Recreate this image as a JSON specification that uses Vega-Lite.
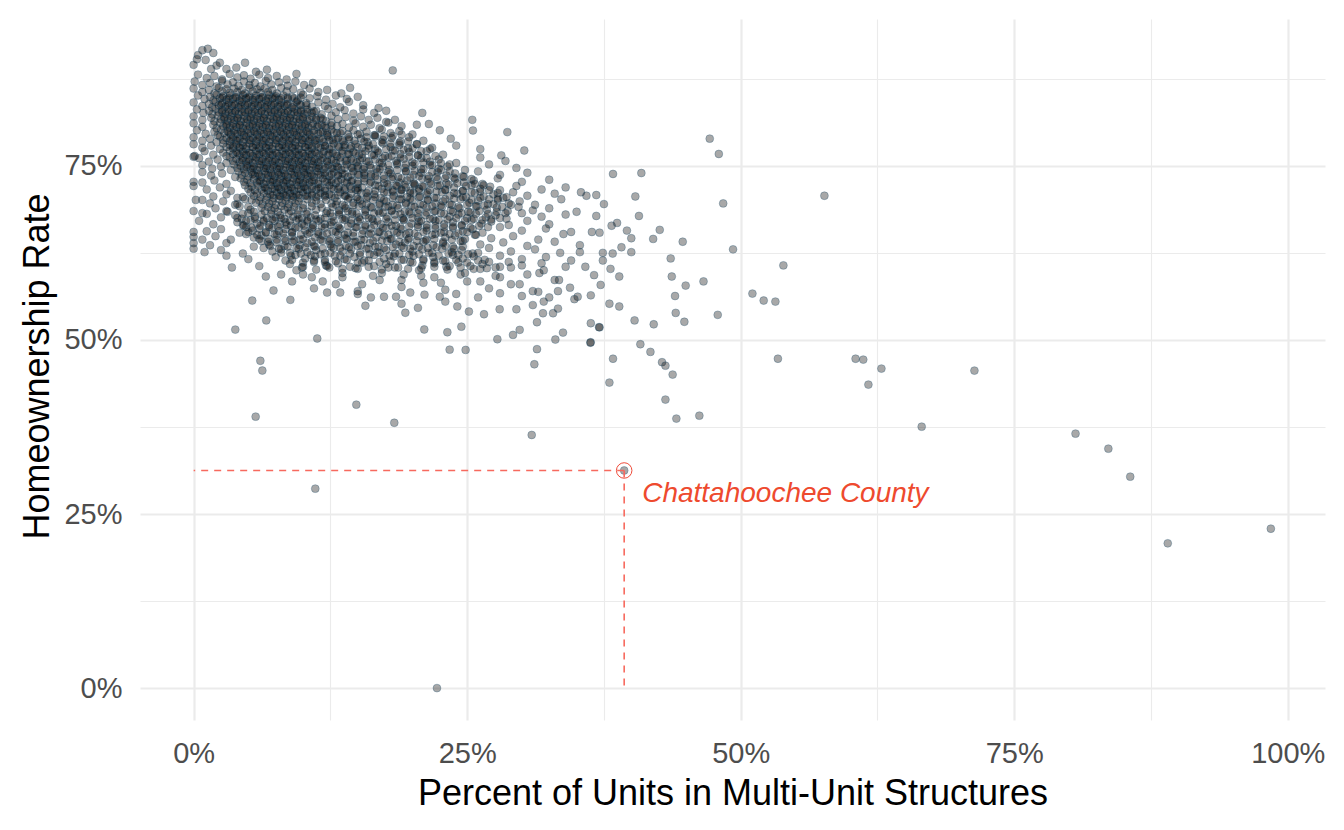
{
"$schema": "https://vega.github.io/schema/vega-lite/v6.json",
"width": 1185,
"height": 701,
"autosize": {"type": "none"},
"padding": {"left": 140, "top": 19, "right": 19, "bottom": 110},
"background": "#ffffff",
"config": {"view": {"stroke": null}, "font": "Liberation Sans"},
"datasets": {
"counties": [
{"x":0.013,"y":0.918},{"x":0.008,"y":0.916},{"x":0.018,"y":0.912},{"x":0.004,"y":0.909},{"x":0.003,"y":0.903},{"x":0.011,"y":0.902},{"x":0.024,"y":0.898},{"x":0.047,"y":0.898},{"x":0,"y":0.895},{"x":0.03,"y":0.889},{"x":0.039,"y":0.891},{"x":0.057,"y":0.885},{"x":0.016,"y":0.889},{"x":0.067,"y":0.888},{"x":0.021,"y":0.894},{"x":0.182,"y":0.887},
{"x":0.004,"y":0.881},{"x":0.012,"y":0.876},{"x":0.019,"y":0.879},{"x":0.026,"y":0.874},{"x":0.033,"y":0.882},{"x":0.04,"y":0.877},{"x":0.046,"y":0.88},{"x":0.052,"y":0.875},{"x":0.06,"y":0.881},{"x":0.068,"y":0.876},{"x":0.076,"y":0.879},{"x":0.085,"y":0.874},{"x":0.094,"y":0.882},
{"x":0.001,"y":0.871},{"x":0.008,"y":0.866},{"x":0.015,"y":0.869},{"x":0.021,"y":0.864},{"x":0.026,"y":0.872},{"x":0.031,"y":0.867},{"x":0.036,"y":0.87},{"x":0.041,"y":0.865},{"x":0.046,"y":0.871},{"x":0.051,"y":0.866},{"x":0.056,"y":0.869},{"x":0.061,"y":0.864},{"x":0.066,"y":0.872},{"x":0.071,"y":0.867},{"x":0.078,"y":0.87},{"x":0.086,"y":0.865},{"x":0.093,"y":0.871},{"x":0.101,"y":0.866},{"x":0.109,"y":0.869},
{"x":0,"y":0.861},{"x":0.008,"y":0.856},{"x":0.014,"y":0.859},{"x":0.019,"y":0.854},{"x":0.023,"y":0.862},{"x":0.026,"y":0.857},{"x":0.03,"y":0.86},{"x":0.033,"y":0.855},{"x":0.037,"y":0.861},{"x":0.04,"y":0.856},{"x":0.044,"y":0.859},{"x":0.047,"y":0.854},{"x":0.051,"y":0.862},{"x":0.054,"y":0.857},{"x":0.058,"y":0.86},{"x":0.061,"y":0.855},{"x":0.065,"y":0.861},{"x":0.068,"y":0.856},{"x":0.072,"y":0.859},{"x":0.076,"y":0.854},{"x":0.08,"y":0.862},{"x":0.085,"y":0.857},{"x":0.091,"y":0.86},{"x":0.098,"y":0.855},{"x":0.106,"y":0.861},{"x":0.114,"y":0.856},{"x":0.122,"y":0.859},{"x":0.135,"y":0.854},{"x":0.143,"y":0.862},
{"x":0.004,"y":0.851},{"x":0.01,"y":0.846},{"x":0.015,"y":0.849},{"x":0.018,"y":0.844},{"x":0.021,"y":0.852},{"x":0.024,"y":0.847},{"x":0.027,"y":0.85},{"x":0.03,"y":0.845},{"x":0.033,"y":0.851},{"x":0.036,"y":0.846},{"x":0.039,"y":0.849},{"x":0.042,"y":0.844},{"x":0.045,"y":0.852},{"x":0.048,"y":0.847},{"x":0.051,"y":0.85},{"x":0.054,"y":0.845},{"x":0.057,"y":0.851},{"x":0.06,"y":0.846},{"x":0.063,"y":0.849},{"x":0.066,"y":0.844},{"x":0.069,"y":0.852},{"x":0.072,"y":0.847},{"x":0.075,"y":0.85},{"x":0.078,"y":0.845},{"x":0.082,"y":0.851},{"x":0.086,"y":0.846},{"x":0.09,"y":0.849},{"x":0.095,"y":0.844},{"x":0.1,"y":0.852},{"x":0.106,"y":0.847},{"x":0.113,"y":0.85},{"x":0.121,"y":0.845},{"x":0.13,"y":0.851},{"x":0.14,"y":0.846},{"x":0.15,"y":0.849},
{"x":0.026,"y":0.848},{"x":0.032,"y":0.847},{"x":0.038,"y":0.848},{"x":0.044,"y":0.847},{"x":0.05,"y":0.848},{"x":0.056,"y":0.847},{"x":0.062,"y":0.848},{"x":0.068,"y":0.847},{"x":0.074,"y":0.848},{"x":0.08,"y":0.847},{"x":0.086,"y":0.848},{"x":0.092,"y":0.847},{"x":0.098,"y":0.848},
{"x":0,"y":0.841},{"x":0.008,"y":0.836},{"x":0.014,"y":0.839},{"x":0.017,"y":0.834},{"x":0.02,"y":0.842},{"x":0.023,"y":0.837},{"x":0.026,"y":0.84},{"x":0.029,"y":0.835},{"x":0.032,"y":0.841},{"x":0.035,"y":0.836},{"x":0.038,"y":0.839},{"x":0.041,"y":0.834},{"x":0.044,"y":0.842},{"x":0.047,"y":0.837},{"x":0.05,"y":0.84},{"x":0.053,"y":0.835},{"x":0.056,"y":0.841},{"x":0.059,"y":0.836},{"x":0.062,"y":0.839},{"x":0.065,"y":0.834},{"x":0.068,"y":0.842},{"x":0.071,"y":0.837},{"x":0.074,"y":0.84},{"x":0.077,"y":0.835},{"x":0.08,"y":0.841},{"x":0.083,"y":0.836},{"x":0.086,"y":0.839},{"x":0.09,"y":0.834},{"x":0.094,"y":0.842},{"x":0.098,"y":0.837},{"x":0.103,"y":0.84},{"x":0.108,"y":0.835},{"x":0.114,"y":0.841},{"x":0.12,"y":0.836},{"x":0.127,"y":0.839},{"x":0.134,"y":0.834},{"x":0.142,"y":0.842},{"x":0.155,"y":0.837},{"x":0.169,"y":0.833},
{"x":0.025,"y":0.838},{"x":0.031,"y":0.837},{"x":0.037,"y":0.838},{"x":0.043,"y":0.837},{"x":0.049,"y":0.838},{"x":0.055,"y":0.837},{"x":0.061,"y":0.838},{"x":0.067,"y":0.837},{"x":0.073,"y":0.838},{"x":0.079,"y":0.837},{"x":0.085,"y":0.838},{"x":0.091,"y":0.837},{"x":0.097,"y":0.838},{"x":0.103,"y":0.837},
{"x":0.003,"y":0.831},{"x":0.009,"y":0.826},{"x":0.014,"y":0.829},{"x":0.017,"y":0.824},{"x":0.02,"y":0.832},{"x":0.023,"y":0.827},{"x":0.026,"y":0.83},{"x":0.029,"y":0.825},{"x":0.032,"y":0.831},{"x":0.035,"y":0.826},{"x":0.038,"y":0.829},{"x":0.041,"y":0.824},{"x":0.044,"y":0.832},{"x":0.047,"y":0.827},{"x":0.05,"y":0.83},{"x":0.053,"y":0.825},{"x":0.056,"y":0.831},{"x":0.059,"y":0.826},{"x":0.062,"y":0.829},{"x":0.065,"y":0.824},{"x":0.068,"y":0.832},{"x":0.071,"y":0.827},{"x":0.074,"y":0.83},{"x":0.077,"y":0.825},{"x":0.08,"y":0.831},{"x":0.083,"y":0.826},{"x":0.086,"y":0.829},{"x":0.089,"y":0.824},{"x":0.092,"y":0.832},{"x":0.095,"y":0.827},{"x":0.098,"y":0.83},{"x":0.101,"y":0.825},{"x":0.104,"y":0.831},{"x":0.108,"y":0.826},{"x":0.112,"y":0.829},{"x":0.117,"y":0.824},{"x":0.123,"y":0.832},{"x":0.13,"y":0.827},{"x":0.138,"y":0.83},{"x":0.146,"y":0.825},{"x":0.155,"y":0.831},{"x":0.165,"y":0.826},{"x":0.176,"y":0.829},
{"x":0.026,"y":0.828},{"x":0.032,"y":0.827},{"x":0.038,"y":0.828},{"x":0.044,"y":0.827},{"x":0.05,"y":0.828},{"x":0.056,"y":0.827},{"x":0.062,"y":0.828},{"x":0.068,"y":0.827},{"x":0.074,"y":0.828},{"x":0.08,"y":0.827},{"x":0.086,"y":0.828},{"x":0.092,"y":0.827},{"x":0.098,"y":0.828},{"x":0.104,"y":0.827},{"x":0.11,"y":0.828},
{"x":0,"y":0.821},{"x":0.008,"y":0.816},{"x":0.016,"y":0.819},{"x":0.019,"y":0.814},{"x":0.022,"y":0.822},{"x":0.025,"y":0.817},{"x":0.028,"y":0.82},{"x":0.031,"y":0.815},{"x":0.034,"y":0.821},{"x":0.037,"y":0.816},{"x":0.04,"y":0.819},{"x":0.043,"y":0.814},{"x":0.046,"y":0.822},{"x":0.049,"y":0.817},{"x":0.052,"y":0.82},{"x":0.055,"y":0.815},{"x":0.058,"y":0.821},{"x":0.061,"y":0.816},{"x":0.064,"y":0.819},{"x":0.067,"y":0.814},{"x":0.07,"y":0.822},{"x":0.073,"y":0.817},{"x":0.076,"y":0.82},{"x":0.079,"y":0.815},{"x":0.082,"y":0.821},{"x":0.085,"y":0.816},{"x":0.088,"y":0.819},{"x":0.091,"y":0.814},{"x":0.094,"y":0.822},{"x":0.097,"y":0.817},{"x":0.1,"y":0.82},{"x":0.104,"y":0.815},{"x":0.108,"y":0.821},{"x":0.112,"y":0.816},{"x":0.116,"y":0.819},{"x":0.121,"y":0.814},{"x":0.126,"y":0.822},{"x":0.132,"y":0.817},{"x":0.139,"y":0.82},{"x":0.146,"y":0.815},{"x":0.153,"y":0.821},{"x":0.16,"y":0.816},{"x":0.168,"y":0.819},{"x":0.176,"y":0.813},{"x":0.184,"y":0.816},{"x":0.204,"y":0.809},{"x":0.209,"y":0.826},
{"x":0.028,"y":0.818},{"x":0.034,"y":0.817},{"x":0.04,"y":0.818},{"x":0.046,"y":0.817},{"x":0.052,"y":0.818},{"x":0.058,"y":0.817},{"x":0.064,"y":0.818},{"x":0.07,"y":0.817},{"x":0.076,"y":0.818},{"x":0.082,"y":0.817},{"x":0.088,"y":0.818},{"x":0.094,"y":0.817},{"x":0.1,"y":0.818},{"x":0.106,"y":0.817},{"x":0.112,"y":0.818},{"x":0.118,"y":0.817},
{"x":0,"y":0.811},{"x":0.008,"y":0.806},{"x":0.018,"y":0.809},{"x":0.021,"y":0.804},{"x":0.024,"y":0.812},{"x":0.027,"y":0.807},{"x":0.03,"y":0.81},{"x":0.033,"y":0.805},{"x":0.036,"y":0.811},{"x":0.039,"y":0.806},{"x":0.042,"y":0.809},{"x":0.045,"y":0.804},{"x":0.048,"y":0.812},{"x":0.051,"y":0.807},{"x":0.054,"y":0.81},{"x":0.057,"y":0.805},{"x":0.06,"y":0.811},{"x":0.063,"y":0.806},{"x":0.066,"y":0.809},{"x":0.069,"y":0.804},{"x":0.072,"y":0.812},{"x":0.075,"y":0.807},{"x":0.078,"y":0.81},{"x":0.081,"y":0.805},{"x":0.084,"y":0.811},{"x":0.087,"y":0.806},{"x":0.09,"y":0.809},{"x":0.093,"y":0.804},{"x":0.096,"y":0.812},{"x":0.099,"y":0.807},{"x":0.102,"y":0.81},{"x":0.105,"y":0.805},{"x":0.109,"y":0.811},{"x":0.113,"y":0.806},{"x":0.117,"y":0.809},{"x":0.121,"y":0.804},{"x":0.126,"y":0.812},{"x":0.131,"y":0.807},{"x":0.136,"y":0.81},{"x":0.142,"y":0.805},{"x":0.148,"y":0.811},{"x":0.155,"y":0.806},{"x":0.162,"y":0.809},{"x":0.17,"y":0.804},{"x":0.178,"y":0.812},{"x":0.19,"y":0.807},{"x":0.215,"y":0.81},
{"x":0.03,"y":0.808},{"x":0.036,"y":0.807},{"x":0.042,"y":0.808},{"x":0.048,"y":0.807},{"x":0.054,"y":0.808},{"x":0.06,"y":0.807},{"x":0.066,"y":0.808},{"x":0.072,"y":0.807},{"x":0.078,"y":0.808},{"x":0.084,"y":0.807},{"x":0.09,"y":0.808},{"x":0.096,"y":0.807},{"x":0.102,"y":0.808},{"x":0.108,"y":0.807},{"x":0.114,"y":0.808},{"x":0.12,"y":0.807},{"x":0.126,"y":0.808},
{"x":0.003,"y":0.801},{"x":0.011,"y":0.796},{"x":0.019,"y":0.799},{"x":0.022,"y":0.794},{"x":0.025,"y":0.802},{"x":0.028,"y":0.797},{"x":0.031,"y":0.8},{"x":0.034,"y":0.795},{"x":0.037,"y":0.801},{"x":0.04,"y":0.796},{"x":0.043,"y":0.799},{"x":0.046,"y":0.794},{"x":0.049,"y":0.802},{"x":0.052,"y":0.797},{"x":0.055,"y":0.8},{"x":0.058,"y":0.795},{"x":0.061,"y":0.801},{"x":0.064,"y":0.796},{"x":0.067,"y":0.799},{"x":0.07,"y":0.794},{"x":0.073,"y":0.802},{"x":0.076,"y":0.797},{"x":0.079,"y":0.8},{"x":0.082,"y":0.795},{"x":0.085,"y":0.801},{"x":0.088,"y":0.796},{"x":0.091,"y":0.799},{"x":0.094,"y":0.794},{"x":0.097,"y":0.802},{"x":0.1,"y":0.797},{"x":0.103,"y":0.8},{"x":0.106,"y":0.795},{"x":0.11,"y":0.801},{"x":0.114,"y":0.796},{"x":0.118,"y":0.799},{"x":0.122,"y":0.794},{"x":0.126,"y":0.802},{"x":0.131,"y":0.797},{"x":0.136,"y":0.8},{"x":0.141,"y":0.795},{"x":0.146,"y":0.801},{"x":0.152,"y":0.796},{"x":0.158,"y":0.799},{"x":0.165,"y":0.794},{"x":0.172,"y":0.802},{"x":0.18,"y":0.797},{"x":0.188,"y":0.8},{"x":0.2,"y":0.795},{"x":0.225,"y":0.801},
{"x":0.032,"y":0.798},{"x":0.038,"y":0.797},{"x":0.044,"y":0.798},{"x":0.05,"y":0.797},{"x":0.056,"y":0.798},{"x":0.062,"y":0.797},{"x":0.068,"y":0.798},{"x":0.074,"y":0.797},{"x":0.08,"y":0.798},{"x":0.086,"y":0.797},{"x":0.092,"y":0.798},{"x":0.098,"y":0.797},{"x":0.104,"y":0.798},{"x":0.11,"y":0.797},{"x":0.116,"y":0.798},{"x":0.122,"y":0.797},{"x":0.128,"y":0.798},{"x":0.134,"y":0.797},
{"x":0,"y":0.791},{"x":0.008,"y":0.786},{"x":0.015,"y":0.789},{"x":0.021,"y":0.784},{"x":0.024,"y":0.792},{"x":0.027,"y":0.787},{"x":0.03,"y":0.79},{"x":0.033,"y":0.785},{"x":0.036,"y":0.791},{"x":0.039,"y":0.786},{"x":0.042,"y":0.789},{"x":0.045,"y":0.784},{"x":0.048,"y":0.792},{"x":0.051,"y":0.787},{"x":0.054,"y":0.79},{"x":0.057,"y":0.785},{"x":0.06,"y":0.791},{"x":0.063,"y":0.786},{"x":0.066,"y":0.789},{"x":0.069,"y":0.784},{"x":0.072,"y":0.792},{"x":0.075,"y":0.787},{"x":0.078,"y":0.79},{"x":0.081,"y":0.785},{"x":0.084,"y":0.791},{"x":0.087,"y":0.786},{"x":0.09,"y":0.789},{"x":0.093,"y":0.784},{"x":0.096,"y":0.792},{"x":0.099,"y":0.787},{"x":0.102,"y":0.79},{"x":0.105,"y":0.785},{"x":0.108,"y":0.791},{"x":0.111,"y":0.786},{"x":0.115,"y":0.789},{"x":0.119,"y":0.784},{"x":0.123,"y":0.792},{"x":0.127,"y":0.787},{"x":0.132,"y":0.79},{"x":0.137,"y":0.785},{"x":0.142,"y":0.791},{"x":0.147,"y":0.786},{"x":0.153,"y":0.789},{"x":0.159,"y":0.784},{"x":0.166,"y":0.792},{"x":0.173,"y":0.787},{"x":0.181,"y":0.79},{"x":0.189,"y":0.785},{"x":0.197,"y":0.791},{"x":0.21,"y":0.786},{"x":0.235,"y":0.789},
{"x":0.034,"y":0.788},{"x":0.04,"y":0.787},{"x":0.046,"y":0.788},{"x":0.052,"y":0.787},{"x":0.058,"y":0.788},{"x":0.064,"y":0.787},{"x":0.07,"y":0.788},{"x":0.076,"y":0.787},{"x":0.082,"y":0.788},{"x":0.088,"y":0.787},{"x":0.094,"y":0.788},{"x":0.1,"y":0.787},{"x":0.106,"y":0.788},{"x":0.112,"y":0.787},{"x":0.118,"y":0.788},{"x":0.124,"y":0.787},{"x":0.13,"y":0.788},{"x":0.136,"y":0.787},{"x":0.142,"y":0.788},
{"x":0,"y":0.781},{"x":0.008,"y":0.776},{"x":0.016,"y":0.779},{"x":0.024,"y":0.774},{"x":0.027,"y":0.782},{"x":0.03,"y":0.777},{"x":0.033,"y":0.78},{"x":0.036,"y":0.775},{"x":0.039,"y":0.781},{"x":0.042,"y":0.776},{"x":0.045,"y":0.779},{"x":0.048,"y":0.774},{"x":0.051,"y":0.782},{"x":0.054,"y":0.777},{"x":0.057,"y":0.78},{"x":0.06,"y":0.775},{"x":0.063,"y":0.781},{"x":0.066,"y":0.776},{"x":0.069,"y":0.779},{"x":0.072,"y":0.774},{"x":0.075,"y":0.782},{"x":0.078,"y":0.777},{"x":0.081,"y":0.78},{"x":0.084,"y":0.775},{"x":0.087,"y":0.781},{"x":0.09,"y":0.776},{"x":0.093,"y":0.779},{"x":0.096,"y":0.774},{"x":0.099,"y":0.782},{"x":0.102,"y":0.777},{"x":0.105,"y":0.78},{"x":0.108,"y":0.775},{"x":0.112,"y":0.781},{"x":0.116,"y":0.776},{"x":0.12,"y":0.779},{"x":0.124,"y":0.774},{"x":0.128,"y":0.782},{"x":0.133,"y":0.777},{"x":0.138,"y":0.78},{"x":0.143,"y":0.775},{"x":0.148,"y":0.781},{"x":0.154,"y":0.776},{"x":0.16,"y":0.779},{"x":0.166,"y":0.774},{"x":0.173,"y":0.782},{"x":0.18,"y":0.777},{"x":0.188,"y":0.78},{"x":0.196,"y":0.775},{"x":0.204,"y":0.781},{"x":0.218,"y":0.776},{"x":0.24,"y":0.779},{"x":0.262,"y":0.774},
{"x":0.036,"y":0.778},{"x":0.042,"y":0.777},{"x":0.048,"y":0.778},{"x":0.054,"y":0.777},{"x":0.06,"y":0.778},{"x":0.066,"y":0.777},{"x":0.072,"y":0.778},{"x":0.078,"y":0.777},{"x":0.084,"y":0.778},{"x":0.09,"y":0.777},{"x":0.096,"y":0.778},{"x":0.102,"y":0.777},{"x":0.108,"y":0.778},{"x":0.114,"y":0.777},{"x":0.12,"y":0.778},{"x":0.126,"y":0.777},{"x":0.132,"y":0.778},{"x":0.138,"y":0.777},{"x":0.144,"y":0.778},{"x":0.15,"y":0.777},
{"x":0,"y":0.763},{"x":0.001,"y":0.764},{"x":0.01,"y":0.771},{"x":0.018,"y":0.766},{"x":0.027,"y":0.769},{"x":0.03,"y":0.764},{"x":0.033,"y":0.772},{"x":0.036,"y":0.767},{"x":0.039,"y":0.77},{"x":0.042,"y":0.765},{"x":0.045,"y":0.771},{"x":0.048,"y":0.766},{"x":0.051,"y":0.769},{"x":0.054,"y":0.764},{"x":0.057,"y":0.772},{"x":0.06,"y":0.767},{"x":0.063,"y":0.77},{"x":0.066,"y":0.765},{"x":0.069,"y":0.771},{"x":0.072,"y":0.766},{"x":0.075,"y":0.769},{"x":0.078,"y":0.764},{"x":0.081,"y":0.772},{"x":0.084,"y":0.767},{"x":0.087,"y":0.77},{"x":0.09,"y":0.765},{"x":0.093,"y":0.771},{"x":0.096,"y":0.766},{"x":0.099,"y":0.769},{"x":0.102,"y":0.764},{"x":0.105,"y":0.772},{"x":0.108,"y":0.767},{"x":0.111,"y":0.77},{"x":0.115,"y":0.765},{"x":0.119,"y":0.771},{"x":0.123,"y":0.766},{"x":0.127,"y":0.769},{"x":0.131,"y":0.764},{"x":0.136,"y":0.772},{"x":0.141,"y":0.767},{"x":0.146,"y":0.77},{"x":0.151,"y":0.765},{"x":0.157,"y":0.771},{"x":0.163,"y":0.766},{"x":0.169,"y":0.769},{"x":0.175,"y":0.764},{"x":0.182,"y":0.772},{"x":0.189,"y":0.767},{"x":0.197,"y":0.77},{"x":0.205,"y":0.765},{"x":0.213,"y":0.771},{"x":0.228,"y":0.766},
{"x":0.04,"y":0.768},{"x":0.046,"y":0.767},{"x":0.052,"y":0.768},{"x":0.058,"y":0.767},{"x":0.064,"y":0.768},{"x":0.07,"y":0.767},{"x":0.076,"y":0.768},{"x":0.082,"y":0.767},{"x":0.088,"y":0.768},{"x":0.094,"y":0.767},{"x":0.1,"y":0.768},{"x":0.106,"y":0.767},{"x":0.112,"y":0.768},{"x":0.118,"y":0.767},{"x":0.124,"y":0.768},{"x":0.13,"y":0.767},{"x":0.136,"y":0.768},{"x":0.142,"y":0.767},{"x":0.148,"y":0.768},{"x":0.154,"y":0.767},
{"x":0.005,"y":0.761},{"x":0.014,"y":0.756},{"x":0.022,"y":0.759},{"x":0.03,"y":0.754},{"x":0.033,"y":0.762},{"x":0.036,"y":0.757},{"x":0.039,"y":0.76},{"x":0.042,"y":0.755},{"x":0.045,"y":0.761},{"x":0.048,"y":0.756},{"x":0.051,"y":0.759},{"x":0.054,"y":0.754},{"x":0.057,"y":0.762},{"x":0.06,"y":0.757},{"x":0.063,"y":0.76},{"x":0.066,"y":0.755},{"x":0.069,"y":0.761},{"x":0.072,"y":0.756},{"x":0.075,"y":0.759},{"x":0.078,"y":0.754},{"x":0.081,"y":0.762},{"x":0.084,"y":0.757},{"x":0.087,"y":0.76},{"x":0.09,"y":0.755},{"x":0.093,"y":0.761},{"x":0.096,"y":0.756},{"x":0.099,"y":0.759},{"x":0.102,"y":0.754},{"x":0.105,"y":0.762},{"x":0.108,"y":0.757},{"x":0.111,"y":0.76},{"x":0.114,"y":0.755},{"x":0.118,"y":0.761},{"x":0.122,"y":0.756},{"x":0.126,"y":0.759},{"x":0.13,"y":0.754},{"x":0.134,"y":0.762},{"x":0.139,"y":0.757},{"x":0.144,"y":0.76},{"x":0.149,"y":0.755},{"x":0.154,"y":0.761},{"x":0.16,"y":0.756},{"x":0.166,"y":0.759},{"x":0.172,"y":0.754},{"x":0.178,"y":0.762},{"x":0.185,"y":0.757},{"x":0.192,"y":0.76},{"x":0.2,"y":0.755},{"x":0.208,"y":0.761},{"x":0.216,"y":0.756},{"x":0.224,"y":0.759},{"x":0.24,"y":0.754},{"x":0.262,"y":0.762},{"x":0.285,"y":0.757},
{"x":0.044,"y":0.758},{"x":0.05,"y":0.757},{"x":0.056,"y":0.758},{"x":0.062,"y":0.757},{"x":0.068,"y":0.758},{"x":0.074,"y":0.757},{"x":0.08,"y":0.758},{"x":0.086,"y":0.757},{"x":0.092,"y":0.758},{"x":0.098,"y":0.757},{"x":0.104,"y":0.758},{"x":0.11,"y":0.757},{"x":0.116,"y":0.758},{"x":0.122,"y":0.757},{"x":0.128,"y":0.758},{"x":0.134,"y":0.757},{"x":0.14,"y":0.758},{"x":0.146,"y":0.757},{"x":0.152,"y":0.758},{"x":0.158,"y":0.757},
{"x":0.008,"y":0.751},{"x":0.017,"y":0.746},{"x":0.025,"y":0.749},{"x":0.034,"y":0.744},{"x":0.037,"y":0.752},{"x":0.04,"y":0.747},{"x":0.043,"y":0.75},{"x":0.046,"y":0.745},{"x":0.049,"y":0.751},{"x":0.052,"y":0.746},{"x":0.055,"y":0.749},{"x":0.058,"y":0.744},{"x":0.061,"y":0.752},{"x":0.064,"y":0.747},{"x":0.067,"y":0.75},{"x":0.07,"y":0.745},{"x":0.073,"y":0.751},{"x":0.076,"y":0.746},{"x":0.079,"y":0.749},{"x":0.082,"y":0.744},{"x":0.085,"y":0.752},{"x":0.088,"y":0.747},{"x":0.091,"y":0.75},{"x":0.094,"y":0.745},{"x":0.097,"y":0.751},{"x":0.1,"y":0.746},{"x":0.103,"y":0.749},{"x":0.106,"y":0.744},{"x":0.109,"y":0.752},{"x":0.112,"y":0.747},{"x":0.115,"y":0.75},{"x":0.119,"y":0.745},{"x":0.123,"y":0.751},{"x":0.127,"y":0.746},{"x":0.131,"y":0.749},{"x":0.135,"y":0.744},{"x":0.14,"y":0.752},{"x":0.145,"y":0.747},{"x":0.15,"y":0.75},{"x":0.155,"y":0.745},{"x":0.161,"y":0.751},{"x":0.167,"y":0.746},{"x":0.173,"y":0.749},{"x":0.179,"y":0.744},{"x":0.186,"y":0.752},{"x":0.193,"y":0.747},{"x":0.2,"y":0.75},{"x":0.208,"y":0.745},{"x":0.216,"y":0.751},{"x":0.224,"y":0.746},{"x":0.232,"y":0.749},{"x":0.248,"y":0.744},{"x":0.27,"y":0.752},{"x":0.295,"y":0.747},
{"x":0.048,"y":0.748},{"x":0.054,"y":0.747},{"x":0.06,"y":0.748},{"x":0.066,"y":0.747},{"x":0.072,"y":0.748},{"x":0.078,"y":0.747},{"x":0.084,"y":0.748},{"x":0.09,"y":0.747},{"x":0.096,"y":0.748},{"x":0.102,"y":0.747},{"x":0.108,"y":0.748},{"x":0.114,"y":0.747},{"x":0.12,"y":0.748},{"x":0.126,"y":0.747},{"x":0.132,"y":0.748},{"x":0.138,"y":0.747},{"x":0.144,"y":0.748},{"x":0.15,"y":0.747},{"x":0.156,"y":0.748},{"x":0.162,"y":0.747},
{"x":0.008,"y":0.741},{"x":0.016,"y":0.736},{"x":0.026,"y":0.739},{"x":0.038,"y":0.734},{"x":0.041,"y":0.742},{"x":0.044,"y":0.737},{"x":0.047,"y":0.74},{"x":0.05,"y":0.735},{"x":0.053,"y":0.741},{"x":0.056,"y":0.736},{"x":0.059,"y":0.739},{"x":0.062,"y":0.734},{"x":0.065,"y":0.742},{"x":0.068,"y":0.737},{"x":0.071,"y":0.74},{"x":0.074,"y":0.735},{"x":0.077,"y":0.741},{"x":0.08,"y":0.736},{"x":0.083,"y":0.739},{"x":0.086,"y":0.734},{"x":0.089,"y":0.742},{"x":0.092,"y":0.737},{"x":0.095,"y":0.74},{"x":0.098,"y":0.735},{"x":0.101,"y":0.741},{"x":0.104,"y":0.736},{"x":0.107,"y":0.739},{"x":0.11,"y":0.734},{"x":0.113,"y":0.742},{"x":0.116,"y":0.737},{"x":0.12,"y":0.74},{"x":0.124,"y":0.735},{"x":0.128,"y":0.741},{"x":0.132,"y":0.736},{"x":0.136,"y":0.739},{"x":0.141,"y":0.734},{"x":0.146,"y":0.742},{"x":0.151,"y":0.737},{"x":0.156,"y":0.74},{"x":0.162,"y":0.735},{"x":0.168,"y":0.741},{"x":0.174,"y":0.736},{"x":0.18,"y":0.739},{"x":0.187,"y":0.734},{"x":0.194,"y":0.742},{"x":0.201,"y":0.737},{"x":0.208,"y":0.74},{"x":0.215,"y":0.735},{"x":0.223,"y":0.741},{"x":0.231,"y":0.736},{"x":0.239,"y":0.739},{"x":0.247,"y":0.734},{"x":0.26,"y":0.742},{"x":0.28,"y":0.737},{"x":0.305,"y":0.74},
{"x":0.054,"y":0.738},{"x":0.06,"y":0.737},{"x":0.066,"y":0.738},{"x":0.072,"y":0.737},{"x":0.078,"y":0.738},{"x":0.084,"y":0.737},{"x":0.09,"y":0.738},{"x":0.096,"y":0.737},{"x":0.102,"y":0.738},{"x":0.108,"y":0.737},{"x":0.114,"y":0.738},{"x":0.12,"y":0.737},{"x":0.126,"y":0.738},{"x":0.132,"y":0.737},{"x":0.138,"y":0.738},{"x":0.144,"y":0.737},{"x":0.15,"y":0.738},{"x":0.156,"y":0.737},{"x":0.162,"y":0.738},
{"x":0,"y":0.727},{"x":0.008,"y":0.726},{"x":0.019,"y":0.729},{"x":0.03,"y":0.724},{"x":0.043,"y":0.732},{"x":0.046,"y":0.727},{"x":0.049,"y":0.73},{"x":0.052,"y":0.725},{"x":0.055,"y":0.731},{"x":0.058,"y":0.726},{"x":0.061,"y":0.729},{"x":0.064,"y":0.724},{"x":0.067,"y":0.732},{"x":0.07,"y":0.727},{"x":0.073,"y":0.73},{"x":0.076,"y":0.725},{"x":0.079,"y":0.731},{"x":0.082,"y":0.726},{"x":0.085,"y":0.729},{"x":0.088,"y":0.724},{"x":0.091,"y":0.732},{"x":0.094,"y":0.727},{"x":0.097,"y":0.73},{"x":0.1,"y":0.725},{"x":0.103,"y":0.731},{"x":0.106,"y":0.726},{"x":0.11,"y":0.729},{"x":0.114,"y":0.724},{"x":0.118,"y":0.732},{"x":0.122,"y":0.727},{"x":0.126,"y":0.73},{"x":0.13,"y":0.725},{"x":0.135,"y":0.731},{"x":0.14,"y":0.726},{"x":0.145,"y":0.729},{"x":0.15,"y":0.724},{"x":0.156,"y":0.732},{"x":0.162,"y":0.727},{"x":0.168,"y":0.73},{"x":0.174,"y":0.725},{"x":0.181,"y":0.731},{"x":0.188,"y":0.726},{"x":0.195,"y":0.729},{"x":0.202,"y":0.724},{"x":0.209,"y":0.732},{"x":0.216,"y":0.727},{"x":0.223,"y":0.73},{"x":0.231,"y":0.725},{"x":0.239,"y":0.731},{"x":0.247,"y":0.726},{"x":0.256,"y":0.729},{"x":0.264,"y":0.724},{"x":0.278,"y":0.732},{"x":0.3,"y":0.727},{"x":0.325,"y":0.73},
{"x":0.06,"y":0.728},{"x":0.066,"y":0.727},{"x":0.072,"y":0.728},{"x":0.078,"y":0.727},{"x":0.084,"y":0.728},{"x":0.09,"y":0.727},{"x":0.096,"y":0.728},{"x":0.102,"y":0.727},{"x":0.108,"y":0.728},{"x":0.114,"y":0.727},{"x":0.12,"y":0.728},{"x":0.126,"y":0.727},{"x":0.132,"y":0.728},{"x":0.138,"y":0.727},{"x":0.144,"y":0.728},{"x":0.15,"y":0.727},{"x":0.156,"y":0.728},
{"x":0,"y":0.721},{"x":0.012,"y":0.716},{"x":0.024,"y":0.719},{"x":0.034,"y":0.714},{"x":0.047,"y":0.722},{"x":0.05,"y":0.717},{"x":0.053,"y":0.72},{"x":0.056,"y":0.715},{"x":0.059,"y":0.721},{"x":0.062,"y":0.716},{"x":0.065,"y":0.719},{"x":0.068,"y":0.714},{"x":0.071,"y":0.722},{"x":0.074,"y":0.717},{"x":0.077,"y":0.72},{"x":0.08,"y":0.715},{"x":0.083,"y":0.721},{"x":0.086,"y":0.716},{"x":0.089,"y":0.719},{"x":0.092,"y":0.714},{"x":0.095,"y":0.722},{"x":0.098,"y":0.717},{"x":0.101,"y":0.72},{"x":0.104,"y":0.715},{"x":0.108,"y":0.721},{"x":0.112,"y":0.716},{"x":0.116,"y":0.719},{"x":0.12,"y":0.714},{"x":0.124,"y":0.722},{"x":0.128,"y":0.717},{"x":0.133,"y":0.72},{"x":0.138,"y":0.715},{"x":0.143,"y":0.721},{"x":0.148,"y":0.716},{"x":0.154,"y":0.719},{"x":0.16,"y":0.714},{"x":0.166,"y":0.722},{"x":0.172,"y":0.717},{"x":0.178,"y":0.72},{"x":0.182,"y":0.715},{"x":0.186,"y":0.721},{"x":0.19,"y":0.716},{"x":0.194,"y":0.719},{"x":0.198,"y":0.714},{"x":0.202,"y":0.722},{"x":0.206,"y":0.717},{"x":0.21,"y":0.72},{"x":0.216,"y":0.715},{"x":0.223,"y":0.721},{"x":0.23,"y":0.716},{"x":0.238,"y":0.719},{"x":0.246,"y":0.714},{"x":0.254,"y":0.722},{"x":0.262,"y":0.717},{"x":0.271,"y":0.72},{"x":0.28,"y":0.715},{"x":0.295,"y":0.721},{"x":0.318,"y":0.716},{"x":0.34,"y":0.719},
{"x":0.066,"y":0.718},{"x":0.072,"y":0.717},{"x":0.078,"y":0.718},{"x":0.084,"y":0.717},{"x":0.09,"y":0.718},{"x":0.096,"y":0.717},{"x":0.102,"y":0.718},{"x":0.108,"y":0.717},{"x":0.114,"y":0.718},{"x":0.12,"y":0.717},{"x":0.126,"y":0.718},{"x":0.132,"y":0.717},{"x":0.138,"y":0.718},{"x":0.144,"y":0.717},{"x":0.15,"y":0.718},
{"x":0.008,"y":0.701},{"x":0.018,"y":0.706},{"x":0.03,"y":0.709},{"x":0.04,"y":0.704},{"x":0.052,"y":0.712},{"x":0.055,"y":0.707},{"x":0.058,"y":0.71},{"x":0.061,"y":0.705},{"x":0.064,"y":0.711},{"x":0.067,"y":0.706},{"x":0.07,"y":0.709},{"x":0.073,"y":0.704},{"x":0.076,"y":0.712},{"x":0.079,"y":0.707},{"x":0.082,"y":0.71},{"x":0.085,"y":0.705},{"x":0.088,"y":0.711},{"x":0.091,"y":0.706},{"x":0.094,"y":0.709},{"x":0.097,"y":0.704},{"x":0.1,"y":0.712},{"x":0.104,"y":0.707},{"x":0.108,"y":0.71},{"x":0.112,"y":0.705},{"x":0.116,"y":0.711},{"x":0.12,"y":0.706},{"x":0.124,"y":0.709},{"x":0.129,"y":0.704},{"x":0.134,"y":0.712},{"x":0.139,"y":0.707},{"x":0.144,"y":0.71},{"x":0.149,"y":0.705},{"x":0.153,"y":0.711},{"x":0.159,"y":0.706},{"x":0.165,"y":0.709},{"x":0.171,"y":0.704},{"x":0.177,"y":0.712},{"x":0.183,"y":0.707},{"x":0.189,"y":0.71},{"x":0.195,"y":0.705},{"x":0.201,"y":0.711},{"x":0.207,"y":0.706},{"x":0.213,"y":0.709},{"x":0.22,"y":0.704},{"x":0.227,"y":0.712},{"x":0.234,"y":0.707},{"x":0.241,"y":0.71},{"x":0.249,"y":0.705},{"x":0.257,"y":0.711},{"x":0.265,"y":0.706},{"x":0.274,"y":0.709},{"x":0.283,"y":0.704},{"x":0.292,"y":0.712},{"x":0.305,"y":0.707},{"x":0.33,"y":0.71},{"x":0.354,"y":0.712},{"x":0.359,"y":0.707},{"x":0.368,"y":0.708},{"x":0.375,"y":0.695},
{"x":0.072,"y":0.708},{"x":0.078,"y":0.707},{"x":0.084,"y":0.708},{"x":0.09,"y":0.707},{"x":0.096,"y":0.708},{"x":0.102,"y":0.707},{"x":0.108,"y":0.708},{"x":0.114,"y":0.707},{"x":0.12,"y":0.708},{"x":0.126,"y":0.707},{"x":0.132,"y":0.708},{"x":0.138,"y":0.707},
{"x":0.002,"y":0.701},{"x":0.015,"y":0.696},{"x":0.027,"y":0.699},{"x":0.038,"y":0.694},{"x":0.047,"y":0.702},{"x":0.057,"y":0.697},{"x":0.06,"y":0.7},{"x":0.063,"y":0.695},{"x":0.066,"y":0.701},{"x":0.069,"y":0.696},{"x":0.072,"y":0.699},{"x":0.075,"y":0.694},{"x":0.078,"y":0.702},{"x":0.081,"y":0.697},{"x":0.084,"y":0.7},{"x":0.087,"y":0.695},{"x":0.09,"y":0.701},{"x":0.093,"y":0.696},{"x":0.096,"y":0.699},{"x":0.1,"y":0.694},{"x":0.104,"y":0.702},{"x":0.108,"y":0.697},{"x":0.112,"y":0.7},{"x":0.116,"y":0.695},{"x":0.121,"y":0.701},{"x":0.126,"y":0.696},{"x":0.131,"y":0.699},{"x":0.136,"y":0.694},{"x":0.141,"y":0.702},{"x":0.146,"y":0.697},{"x":0.152,"y":0.7},{"x":0.158,"y":0.695},{"x":0.164,"y":0.701},{"x":0.17,"y":0.696},{"x":0.176,"y":0.699},{"x":0.182,"y":0.694},{"x":0.188,"y":0.702},{"x":0.194,"y":0.697},{"x":0.2,"y":0.7},{"x":0.207,"y":0.695},{"x":0.214,"y":0.701},{"x":0.221,"y":0.696},{"x":0.228,"y":0.699},{"x":0.236,"y":0.694},{"x":0.244,"y":0.702},{"x":0.252,"y":0.697},{"x":0.26,"y":0.7},{"x":0.269,"y":0.695},{"x":0.278,"y":0.701},{"x":0.288,"y":0.696},{"x":0.298,"y":0.699},{"x":0.312,"y":0.694},{"x":0.336,"y":0.702},
{"x":0,"y":0.685},{"x":0.008,"y":0.682},{"x":0.02,"y":0.689},{"x":0.031,"y":0.684},{"x":0.042,"y":0.692},{"x":0.052,"y":0.687},{"x":0.062,"y":0.69},{"x":0.065,"y":0.685},{"x":0.068,"y":0.691},{"x":0.071,"y":0.686},{"x":0.074,"y":0.689},{"x":0.077,"y":0.684},{"x":0.08,"y":0.692},{"x":0.083,"y":0.687},{"x":0.086,"y":0.69},{"x":0.089,"y":0.685},{"x":0.092,"y":0.691},{"x":0.096,"y":0.686},{"x":0.1,"y":0.689},{"x":0.104,"y":0.684},{"x":0.108,"y":0.692},{"x":0.112,"y":0.687},{"x":0.117,"y":0.69},{"x":0.122,"y":0.685},{"x":0.127,"y":0.691},{"x":0.133,"y":0.686},{"x":0.139,"y":0.689},{"x":0.145,"y":0.684},{"x":0.151,"y":0.692},{"x":0.157,"y":0.687},{"x":0.163,"y":0.69},{"x":0.169,"y":0.685},{"x":0.175,"y":0.691},{"x":0.181,"y":0.686},{"x":0.187,"y":0.689},{"x":0.193,"y":0.684},{"x":0.199,"y":0.692},{"x":0.206,"y":0.687},{"x":0.213,"y":0.69},{"x":0.22,"y":0.685},{"x":0.227,"y":0.691},{"x":0.235,"y":0.686},{"x":0.243,"y":0.689},{"x":0.251,"y":0.684},{"x":0.259,"y":0.692},{"x":0.268,"y":0.687},{"x":0.277,"y":0.69},{"x":0.287,"y":0.685},{"x":0.297,"y":0.691},{"x":0.31,"y":0.686},{"x":0.325,"y":0.689},{"x":0.35,"y":0.684},{"x":0.368,"y":0.678},{"x":0.407,"y":0.678},
{"x":0.012,"y":0.681},{"x":0.025,"y":0.676},{"x":0.038,"y":0.679},{"x":0.044,"y":0.674},{"x":0.05,"y":0.682},{"x":0.056,"y":0.677},{"x":0.062,"y":0.68},{"x":0.067,"y":0.675},{"x":0.071,"y":0.681},{"x":0.075,"y":0.676},{"x":0.079,"y":0.679},{"x":0.083,"y":0.674},{"x":0.087,"y":0.682},{"x":0.091,"y":0.677},{"x":0.095,"y":0.68},{"x":0.099,"y":0.675},{"x":0.103,"y":0.681},{"x":0.107,"y":0.676},{"x":0.111,"y":0.679},{"x":0.116,"y":0.674},{"x":0.121,"y":0.682},{"x":0.127,"y":0.677},{"x":0.133,"y":0.68},{"x":0.139,"y":0.675},{"x":0.145,"y":0.681},{"x":0.151,"y":0.676},{"x":0.157,"y":0.679},{"x":0.163,"y":0.674},{"x":0.17,"y":0.682},{"x":0.177,"y":0.677},{"x":0.184,"y":0.68},{"x":0.191,"y":0.675},{"x":0.198,"y":0.681},{"x":0.205,"y":0.676},{"x":0.212,"y":0.679},{"x":0.219,"y":0.674},{"x":0.226,"y":0.682},{"x":0.234,"y":0.677},{"x":0.242,"y":0.68},{"x":0.25,"y":0.675},{"x":0.258,"y":0.681},{"x":0.267,"y":0.676},{"x":0.276,"y":0.679},{"x":0.286,"y":0.674},{"x":0.3,"y":0.682},{"x":0.318,"y":0.677},{"x":0.34,"y":0.68},
{"x":0.005,"y":0.671},{"x":0.018,"y":0.666},{"x":0.04,"y":0.669},{"x":0.046,"y":0.664},{"x":0.052,"y":0.672},{"x":0.058,"y":0.667},{"x":0.064,"y":0.67},{"x":0.069,"y":0.665},{"x":0.074,"y":0.671},{"x":0.079,"y":0.666},{"x":0.084,"y":0.669},{"x":0.089,"y":0.664},{"x":0.094,"y":0.672},{"x":0.099,"y":0.667},{"x":0.104,"y":0.67},{"x":0.109,"y":0.665},{"x":0.114,"y":0.671},{"x":0.12,"y":0.666},{"x":0.126,"y":0.669},{"x":0.132,"y":0.664},{"x":0.138,"y":0.672},{"x":0.144,"y":0.667},{"x":0.15,"y":0.67},{"x":0.157,"y":0.665},{"x":0.164,"y":0.671},{"x":0.171,"y":0.666},{"x":0.178,"y":0.669},{"x":0.185,"y":0.664},{"x":0.192,"y":0.672},{"x":0.199,"y":0.667},{"x":0.206,"y":0.67},{"x":0.213,"y":0.665},{"x":0.221,"y":0.671},{"x":0.229,"y":0.666},{"x":0.237,"y":0.669},{"x":0.245,"y":0.664},{"x":0.254,"y":0.672},{"x":0.263,"y":0.667},{"x":0.272,"y":0.67},{"x":0.288,"y":0.665},{"x":0.305,"y":0.671},{"x":0.325,"y":0.666},{"x":0.382,"y":0.664},{"x":0.387,"y":0.668},
{"x":0,"y":0.655},{"x":0.012,"y":0.656},{"x":0.025,"y":0.659},{"x":0.042,"y":0.654},{"x":0.048,"y":0.662},{"x":0.054,"y":0.657},{"x":0.06,"y":0.66},{"x":0.066,"y":0.655},{"x":0.072,"y":0.661},{"x":0.078,"y":0.656},{"x":0.084,"y":0.659},{"x":0.09,"y":0.654},{"x":0.096,"y":0.662},{"x":0.102,"y":0.657},{"x":0.108,"y":0.66},{"x":0.114,"y":0.655},{"x":0.12,"y":0.661},{"x":0.127,"y":0.656},{"x":0.134,"y":0.659},{"x":0.141,"y":0.654},{"x":0.148,"y":0.662},{"x":0.155,"y":0.657},{"x":0.162,"y":0.66},{"x":0.169,"y":0.655},{"x":0.176,"y":0.661},{"x":0.183,"y":0.656},{"x":0.19,"y":0.659},{"x":0.197,"y":0.654},{"x":0.205,"y":0.662},{"x":0.213,"y":0.657},{"x":0.221,"y":0.66},{"x":0.229,"y":0.655},{"x":0.237,"y":0.661},{"x":0.246,"y":0.656},{"x":0.255,"y":0.659},{"x":0.264,"y":0.654},{"x":0.28,"y":0.662},{"x":0.3,"y":0.657},{"x":0.322,"y":0.66},{"x":0.345,"y":0.655},{"x":0.364,"y":0.655},{"x":0.371,"y":0.654},{"x":0.396,"y":0.657},{"x":0.426,"y":0.658},
{"x":0,"y":0.648},{"x":0.008,"y":0.644},{"x":0.02,"y":0.649},{"x":0.034,"y":0.644},{"x":0.048,"y":0.652},{"x":0.055,"y":0.647},{"x":0.062,"y":0.65},{"x":0.069,"y":0.645},{"x":0.076,"y":0.651},{"x":0.083,"y":0.646},{"x":0.09,"y":0.649},{"x":0.097,"y":0.644},{"x":0.104,"y":0.652},{"x":0.111,"y":0.647},{"x":0.118,"y":0.65},{"x":0.125,"y":0.645},{"x":0.132,"y":0.651},{"x":0.139,"y":0.646},{"x":0.146,"y":0.649},{"x":0.153,"y":0.644},{"x":0.16,"y":0.652},{"x":0.167,"y":0.647},{"x":0.174,"y":0.65},{"x":0.181,"y":0.645},{"x":0.189,"y":0.651},{"x":0.197,"y":0.646},{"x":0.205,"y":0.649},{"x":0.213,"y":0.644},{"x":0.221,"y":0.652},{"x":0.23,"y":0.647},{"x":0.239,"y":0.65},{"x":0.248,"y":0.645},{"x":0.257,"y":0.651},{"x":0.272,"y":0.646},{"x":0.292,"y":0.649},{"x":0.315,"y":0.644},{"x":0.338,"y":0.652},{"x":0.4,"y":0.646},{"x":0.42,"y":0.645},{"x":0.447,"y":0.641},
{"x":0,"y":0.639},{"x":0.015,"y":0.636},{"x":0.03,"y":0.639},{"x":0.055,"y":0.634},{"x":0.062,"y":0.642},{"x":0.069,"y":0.637},{"x":0.076,"y":0.64},{"x":0.083,"y":0.635},{"x":0.09,"y":0.641},{"x":0.097,"y":0.636},{"x":0.104,"y":0.639},{"x":0.111,"y":0.634},{"x":0.118,"y":0.642},{"x":0.125,"y":0.637},{"x":0.132,"y":0.64},{"x":0.139,"y":0.635},{"x":0.146,"y":0.641},{"x":0.153,"y":0.636},{"x":0.161,"y":0.639},{"x":0.169,"y":0.634},{"x":0.177,"y":0.642},{"x":0.185,"y":0.637},{"x":0.193,"y":0.64},{"x":0.201,"y":0.635},{"x":0.21,"y":0.641},{"x":0.219,"y":0.636},{"x":0.228,"y":0.639},{"x":0.237,"y":0.634},{"x":0.246,"y":0.642},{"x":0.262,"y":0.637},{"x":0.283,"y":0.64},{"x":0.305,"y":0.635},{"x":0.33,"y":0.641},{"x":0.353,"y":0.636},{"x":0.391,"y":0.633},
{"x":0,"y":0.631},{"x":0.01,"y":0.626},{"x":0.025,"y":0.629},{"x":0.045,"y":0.624},{"x":0.064,"y":0.632},{"x":0.072,"y":0.627},{"x":0.08,"y":0.63},{"x":0.088,"y":0.625},{"x":0.096,"y":0.631},{"x":0.104,"y":0.626},{"x":0.112,"y":0.629},{"x":0.12,"y":0.624},{"x":0.128,"y":0.632},{"x":0.136,"y":0.627},{"x":0.144,"y":0.63},{"x":0.152,"y":0.625},{"x":0.16,"y":0.631},{"x":0.168,"y":0.626},{"x":0.176,"y":0.629},{"x":0.184,"y":0.624},{"x":0.192,"y":0.632},{"x":0.2,"y":0.627},{"x":0.209,"y":0.63},{"x":0.218,"y":0.625},{"x":0.227,"y":0.631},{"x":0.236,"y":0.626},{"x":0.245,"y":0.629},{"x":0.255,"y":0.624},{"x":0.27,"y":0.632},{"x":0.29,"y":0.627},{"x":0.312,"y":0.63},{"x":0.335,"y":0.625},{"x":0.353,"y":0.626},{"x":0.374,"y":0.625},{"x":0.383,"y":0.624},{"x":0.4,"y":0.626},{"x":0.493,"y":0.63},
{"x":0.03,"y":0.621},{"x":0.05,"y":0.616},{"x":0.075,"y":0.619},{"x":0.084,"y":0.614},{"x":0.093,"y":0.622},{"x":0.102,"y":0.617},{"x":0.111,"y":0.62},{"x":0.12,"y":0.615},{"x":0.129,"y":0.621},{"x":0.138,"y":0.616},{"x":0.147,"y":0.619},{"x":0.156,"y":0.614},{"x":0.165,"y":0.622},{"x":0.174,"y":0.617},{"x":0.183,"y":0.62},{"x":0.192,"y":0.615},{"x":0.201,"y":0.621},{"x":0.21,"y":0.616},{"x":0.219,"y":0.619},{"x":0.228,"y":0.614},{"x":0.237,"y":0.622},{"x":0.246,"y":0.617},{"x":0.256,"y":0.62},{"x":0.266,"y":0.615},{"x":0.28,"y":0.621},{"x":0.3,"y":0.616},{"x":0.322,"y":0.619},{"x":0.345,"y":0.614},{"x":0.374,"y":0.614},{"x":0.436,"y":0.617},
{"x":0.035,"y":0.604},{"x":0.06,"y":0.606},{"x":0.088,"y":0.609},{"x":0.099,"y":0.604},{"x":0.11,"y":0.612},{"x":0.121,"y":0.607},{"x":0.132,"y":0.61},{"x":0.143,"y":0.605},{"x":0.154,"y":0.611},{"x":0.165,"y":0.606},{"x":0.176,"y":0.609},{"x":0.187,"y":0.604},{"x":0.198,"y":0.612},{"x":0.209,"y":0.607},{"x":0.22,"y":0.61},{"x":0.231,"y":0.605},{"x":0.242,"y":0.611},{"x":0.253,"y":0.606},{"x":0.264,"y":0.609},{"x":0.276,"y":0.604},{"x":0.288,"y":0.612},{"x":0.3,"y":0.607},{"x":0.318,"y":0.61},{"x":0.34,"y":0.605},{"x":0.358,"y":0.605},{"x":0.381,"y":0.602},
{"x":0.066,"y":0.591},{"x":0.08,"y":0.594},{"x":0.094,"y":0.6},{"x":0.108,"y":0.59},{"x":0.122,"y":0.606},{"x":0.136,"y":0.596},{"x":0.15,"y":0.602},{"x":0.164,"y":0.592},{"x":0.178,"y":0.604},{"x":0.192,"y":0.594},{"x":0.206,"y":0.6},{"x":0.22,"y":0.59},{"x":0.234,"y":0.606},{"x":0.248,"y":0.596},{"x":0.262,"y":0.602},{"x":0.276,"y":0.592},{"x":0.29,"y":0.604},{"x":0.305,"y":0.594},{"x":0.32,"y":0.6},{"x":0.366,"y":0.593},{"x":0.389,"y":0.591},{"x":0.437,"y":0.591},
{"x":0.1,"y":0.594},{"x":0.118,"y":0.584},{"x":0.136,"y":0.59},{"x":0.154,"y":0.58},{"x":0.172,"y":0.596},{"x":0.19,"y":0.586},{"x":0.208,"y":0.592},{"x":0.226,"y":0.582},{"x":0.244,"y":0.594},{"x":0.262,"y":0.584},{"x":0.28,"y":0.59},{"x":0.298,"y":0.58},{"x":0.316,"y":0.596},{"x":0.334,"y":0.586},
{"x":0.09,"y":0.584},{"x":0.11,"y":0.574},{"x":0.13,"y":0.58},{"x":0.15,"y":0.57},{"x":0.17,"y":0.586},{"x":0.19,"y":0.576},{"x":0.21,"y":0.582},{"x":0.23,"y":0.572},{"x":0.25,"y":0.584},{"x":0.27,"y":0.574},{"x":0.29,"y":0.58},{"x":0.31,"y":0.57},{"x":0.33,"y":0.586},{"x":0.372,"y":0.579},{"x":0.344,"y":0.575},{"x":0.466,"y":0.584},{"x":0.4497,"y":0.578},
{"x":0.15,"y":0.795},{"x":0.158,"y":0.791},{"x":0.166,"y":0.794},{"x":0.174,"y":0.792},{"x":0.182,"y":0.793},{"x":0.19,"y":0.795},
{"x":0.156,"y":0.785},{"x":0.164,"y":0.781},{"x":0.172,"y":0.784},{"x":0.18,"y":0.782},{"x":0.188,"y":0.783},{"x":0.196,"y":0.785},{"x":0.204,"y":0.781},
{"x":0.16,"y":0.775},{"x":0.168,"y":0.771},{"x":0.176,"y":0.774},{"x":0.184,"y":0.772},{"x":0.192,"y":0.773},{"x":0.2,"y":0.775},{"x":0.208,"y":0.771},{"x":0.216,"y":0.774},
{"x":0.165,"y":0.765},{"x":0.173,"y":0.761},{"x":0.181,"y":0.764},{"x":0.189,"y":0.762},{"x":0.197,"y":0.763},{"x":0.205,"y":0.765},{"x":0.213,"y":0.761},{"x":0.221,"y":0.764},
{"x":0.17,"y":0.755},{"x":0.178,"y":0.751},{"x":0.186,"y":0.754},{"x":0.194,"y":0.752},{"x":0.202,"y":0.753},{"x":0.21,"y":0.755},{"x":0.218,"y":0.751},{"x":0.226,"y":0.754},{"x":0.234,"y":0.752},
{"x":0.17,"y":0.745},{"x":0.178,"y":0.741},{"x":0.186,"y":0.744},{"x":0.194,"y":0.742},{"x":0.202,"y":0.743},{"x":0.21,"y":0.745},{"x":0.218,"y":0.741},{"x":0.226,"y":0.744},{"x":0.234,"y":0.742},
{"x":0.166,"y":0.735},{"x":0.174,"y":0.731},{"x":0.182,"y":0.734},{"x":0.19,"y":0.732},{"x":0.198,"y":0.733},{"x":0.206,"y":0.735},{"x":0.214,"y":0.731},{"x":0.222,"y":0.734},{"x":0.23,"y":0.732},{"x":0.238,"y":0.733},{"x":0.246,"y":0.735},{"x":0.254,"y":0.731},
{"x":0.161,"y":0.725},{"x":0.169,"y":0.721},{"x":0.177,"y":0.724},{"x":0.185,"y":0.722},{"x":0.193,"y":0.723},{"x":0.201,"y":0.725},{"x":0.209,"y":0.721},{"x":0.217,"y":0.724},{"x":0.225,"y":0.722},{"x":0.233,"y":0.723},{"x":0.241,"y":0.725},{"x":0.249,"y":0.721},{"x":0.257,"y":0.724},{"x":0.265,"y":0.722},
{"x":0.15,"y":0.715},{"x":0.158,"y":0.711},{"x":0.166,"y":0.714},{"x":0.174,"y":0.712},{"x":0.182,"y":0.713},{"x":0.19,"y":0.715},{"x":0.198,"y":0.711},{"x":0.206,"y":0.714},{"x":0.214,"y":0.712},{"x":0.222,"y":0.713},{"x":0.23,"y":0.715},{"x":0.238,"y":0.711},{"x":0.246,"y":0.714},{"x":0.254,"y":0.712},{"x":0.262,"y":0.713},{"x":0.27,"y":0.715},{"x":0.278,"y":0.711},
{"x":0.045,"y":0.705},{"x":0.053,"y":0.701},{"x":0.142,"y":0.704},{"x":0.15,"y":0.702},{"x":0.158,"y":0.703},{"x":0.166,"y":0.705},{"x":0.174,"y":0.701},{"x":0.182,"y":0.704},{"x":0.19,"y":0.702},{"x":0.198,"y":0.703},{"x":0.206,"y":0.705},{"x":0.214,"y":0.701},{"x":0.222,"y":0.704},{"x":0.23,"y":0.702},{"x":0.238,"y":0.703},{"x":0.246,"y":0.705},{"x":0.254,"y":0.701},{"x":0.262,"y":0.704},{"x":0.27,"y":0.702},{"x":0.278,"y":0.703},{"x":0.286,"y":0.705},
{"x":0.04,"y":0.695},{"x":0.05,"y":0.691},{"x":0.13,"y":0.694},{"x":0.138,"y":0.692},{"x":0.146,"y":0.693},{"x":0.154,"y":0.695},{"x":0.162,"y":0.691},{"x":0.17,"y":0.694},{"x":0.178,"y":0.692},{"x":0.186,"y":0.693},{"x":0.194,"y":0.695},{"x":0.202,"y":0.691},{"x":0.21,"y":0.694},{"x":0.218,"y":0.692},{"x":0.226,"y":0.693},{"x":0.234,"y":0.695},{"x":0.242,"y":0.691},{"x":0.25,"y":0.694},{"x":0.258,"y":0.692},{"x":0.266,"y":0.693},{"x":0.274,"y":0.695},{"x":0.282,"y":0.691},{"x":0.29,"y":0.694},
{"x":0.03,"y":0.685},{"x":0.045,"y":0.681},{"x":0.055,"y":0.684},{"x":0.125,"y":0.682},{"x":0.133,"y":0.683},{"x":0.141,"y":0.685},{"x":0.149,"y":0.681},{"x":0.157,"y":0.684},{"x":0.165,"y":0.682},{"x":0.173,"y":0.683},{"x":0.181,"y":0.685},{"x":0.189,"y":0.681},{"x":0.197,"y":0.684},{"x":0.205,"y":0.682},{"x":0.213,"y":0.683},{"x":0.221,"y":0.685},{"x":0.229,"y":0.681},{"x":0.237,"y":0.684},{"x":0.245,"y":0.682},{"x":0.253,"y":0.683},{"x":0.261,"y":0.685},{"x":0.269,"y":0.681},{"x":0.277,"y":0.684},{"x":0.285,"y":0.682},
{"x":0.04,"y":0.675},{"x":0.048,"y":0.671},{"x":0.056,"y":0.674},{"x":0.064,"y":0.672},{"x":0.072,"y":0.673},{"x":0.08,"y":0.675},{"x":0.088,"y":0.671},{"x":0.096,"y":0.674},{"x":0.104,"y":0.672},{"x":0.112,"y":0.673},{"x":0.12,"y":0.675},{"x":0.128,"y":0.671},{"x":0.136,"y":0.674},{"x":0.144,"y":0.672},{"x":0.152,"y":0.673},{"x":0.16,"y":0.675},{"x":0.168,"y":0.671},{"x":0.176,"y":0.674},{"x":0.184,"y":0.672},{"x":0.192,"y":0.673},{"x":0.2,"y":0.675},{"x":0.208,"y":0.671},{"x":0.216,"y":0.674},{"x":0.224,"y":0.672},{"x":0.232,"y":0.673},{"x":0.24,"y":0.675},{"x":0.248,"y":0.671},{"x":0.256,"y":0.674},{"x":0.264,"y":0.672},{"x":0.272,"y":0.673},{"x":0.28,"y":0.675},
{"x":0.045,"y":0.665},{"x":0.053,"y":0.661},{"x":0.061,"y":0.664},{"x":0.069,"y":0.662},{"x":0.077,"y":0.663},{"x":0.085,"y":0.665},{"x":0.093,"y":0.661},{"x":0.101,"y":0.664},{"x":0.109,"y":0.662},{"x":0.117,"y":0.663},{"x":0.125,"y":0.665},{"x":0.133,"y":0.661},{"x":0.141,"y":0.664},{"x":0.149,"y":0.662},{"x":0.157,"y":0.663},{"x":0.165,"y":0.665},{"x":0.173,"y":0.661},{"x":0.181,"y":0.664},{"x":0.189,"y":0.662},{"x":0.197,"y":0.663},{"x":0.205,"y":0.665},{"x":0.213,"y":0.661},{"x":0.221,"y":0.664},{"x":0.229,"y":0.662},{"x":0.237,"y":0.663},{"x":0.245,"y":0.665},{"x":0.253,"y":0.661},{"x":0.261,"y":0.664},{"x":0.269,"y":0.662},
{"x":0.05,"y":0.655},{"x":0.058,"y":0.651},{"x":0.066,"y":0.654},{"x":0.074,"y":0.652},{"x":0.082,"y":0.653},{"x":0.09,"y":0.655},{"x":0.098,"y":0.651},{"x":0.106,"y":0.654},{"x":0.114,"y":0.652},{"x":0.122,"y":0.653},{"x":0.13,"y":0.655},{"x":0.138,"y":0.651},{"x":0.146,"y":0.654},{"x":0.154,"y":0.652},{"x":0.162,"y":0.653},{"x":0.17,"y":0.655},{"x":0.178,"y":0.651},{"x":0.186,"y":0.654},{"x":0.194,"y":0.652},{"x":0.202,"y":0.653},{"x":0.21,"y":0.655},{"x":0.218,"y":0.651},{"x":0.226,"y":0.654},{"x":0.234,"y":0.652},{"x":0.242,"y":0.653},{"x":0.25,"y":0.655},{"x":0.258,"y":0.651},
{"x":0.06,"y":0.645},{"x":0.068,"y":0.641},{"x":0.076,"y":0.644},{"x":0.084,"y":0.642},{"x":0.092,"y":0.643},{"x":0.1,"y":0.645},{"x":0.108,"y":0.641},{"x":0.116,"y":0.644},{"x":0.124,"y":0.642},{"x":0.132,"y":0.643},{"x":0.14,"y":0.645},{"x":0.148,"y":0.641},{"x":0.156,"y":0.644},{"x":0.164,"y":0.642},{"x":0.172,"y":0.643},{"x":0.18,"y":0.645},{"x":0.188,"y":0.641},{"x":0.196,"y":0.644},{"x":0.204,"y":0.642},{"x":0.212,"y":0.643},{"x":0.22,"y":0.645},{"x":0.228,"y":0.641},{"x":0.236,"y":0.644},{"x":0.244,"y":0.642},
{"x":0.07,"y":0.635},{"x":0.078,"y":0.631},{"x":0.086,"y":0.634},{"x":0.094,"y":0.632},{"x":0.102,"y":0.633},{"x":0.11,"y":0.635},{"x":0.118,"y":0.631},{"x":0.126,"y":0.634},{"x":0.134,"y":0.632},{"x":0.142,"y":0.633},{"x":0.15,"y":0.635},{"x":0.158,"y":0.631},{"x":0.166,"y":0.634},{"x":0.174,"y":0.632},{"x":0.182,"y":0.633},{"x":0.19,"y":0.635},{"x":0.198,"y":0.631},{"x":0.206,"y":0.634},{"x":0.214,"y":0.632},{"x":0.222,"y":0.633},{"x":0.23,"y":0.635},{"x":0.238,"y":0.631},{"x":0.246,"y":0.634},
{"x":0.08,"y":0.625},{"x":0.089,"y":0.621},{"x":0.098,"y":0.624},{"x":0.107,"y":0.622},{"x":0.116,"y":0.623},{"x":0.125,"y":0.625},{"x":0.134,"y":0.621},{"x":0.143,"y":0.624},{"x":0.152,"y":0.622},{"x":0.161,"y":0.623},{"x":0.17,"y":0.625},{"x":0.179,"y":0.621},{"x":0.188,"y":0.624},{"x":0.197,"y":0.622},{"x":0.206,"y":0.623},{"x":0.215,"y":0.625},{"x":0.224,"y":0.621},{"x":0.233,"y":0.624},{"x":0.242,"y":0.622},{"x":0.251,"y":0.623},{"x":0.26,"y":0.625},
{"x":0.09,"y":0.615},{"x":0.1,"y":0.611},{"x":0.11,"y":0.614},{"x":0.12,"y":0.612},{"x":0.13,"y":0.613},{"x":0.14,"y":0.615},{"x":0.15,"y":0.611},{"x":0.16,"y":0.614},{"x":0.17,"y":0.612},{"x":0.18,"y":0.613},{"x":0.19,"y":0.615},{"x":0.2,"y":0.611},{"x":0.21,"y":0.614},{"x":0.22,"y":0.612},{"x":0.23,"y":0.613},{"x":0.24,"y":0.615},{"x":0.25,"y":0.611},{"x":0.26,"y":0.614},{"x":0.27,"y":0.612},
{"x":0.1,"y":0.605},{"x":0.112,"y":0.601},{"x":0.124,"y":0.604},{"x":0.136,"y":0.602},{"x":0.148,"y":0.603},{"x":0.16,"y":0.605},{"x":0.172,"y":0.601},{"x":0.184,"y":0.604},{"x":0.196,"y":0.602},{"x":0.208,"y":0.603},{"x":0.22,"y":0.605},{"x":0.232,"y":0.601},{"x":0.244,"y":0.604},{"x":0.256,"y":0.602},{"x":0.268,"y":0.603},{"x":0.28,"y":0.605},
{"x":0.122,"y":0.568},{"x":0.134,"y":0.568},{"x":0.174,"y":0.562},{"x":0.185,"y":0.562},{"x":0.211,"y":0.565},{"x":0.073,"y":0.571},{"x":0.15,"y":0.566},{"x":0.162,"y":0.561},{"x":0.198,"y":0.568},{"x":0.225,"y":0.562},{"x":0.24,"y":0.566},{"x":0.26,"y":0.561},{"x":0.28,"y":0.567},{"x":0.3,"y":0.563},{"x":0.315,"y":0.569},{"x":0.325,"y":0.561},{"x":0.333,"y":0.57},{"x":0.351,"y":0.562},{"x":0.363,"y":0.564},{"x":0.44,"y":0.563},
{"x":0.0536,"y":0.5565},{"x":0.0884,"y":0.5575},{"x":0.157,"y":0.549},{"x":0.241,"y":0.548},{"x":0.2797,"y":0.544},{"x":0.295,"y":0.544},{"x":0.333,"y":0.545},{"x":0.348,"y":0.5585},{"x":0.38,"y":0.552},{"x":0.389,"y":0.548},{"x":0.2516,"y":0.5407},{"x":0.2654,"y":0.5369},{"x":0.19,"y":0.552},{"x":0.205,"y":0.546},{"x":0.23,"y":0.555},{"x":0.31,"y":0.55},{"x":0.32,"y":0.555},{"x":0.5107,"y":0.5665},{"x":0.521,"y":0.5565},{"x":0.5317,"y":0.555},{"x":0.539,"y":0.607},
{"x":0.0664,"y":0.528},{"x":0.1935,"y":0.539},{"x":0.3193,"y":0.5383},{"x":0.3285,"y":0.5383},{"x":0.3138,"y":0.5254},{"x":0.403,"y":0.528},{"x":0.4205,"y":0.5224},{"x":0.4406,"y":0.5388},{"x":0.363,"y":0.524},{"x":0.371,"y":0.518},{"x":0.4485,"y":0.526},{"x":0.479,"y":0.536},
{"x":0.0381,"y":0.5148},{"x":0.113,"y":0.502},{"x":0.2108,"y":0.515},{"x":0.2319,"y":0.511},{"x":0.2447,"y":0.519},{"x":0.298,"y":0.5144},{"x":0.2919,"y":0.5072},{"x":0.2776,"y":0.501},{"x":0.3376,"y":0.5105},{"x":0.3306,"y":0.5005},{"x":0.3629,"y":0.4966},{"x":0.3705,"y":0.5183},
{"x":0.234,"y":0.486},{"x":0.2486,"y":0.4856},{"x":0.3138,"y":0.4867},{"x":0.3114,"y":0.465},{"x":0.3626,"y":0.496},{"x":0.4083,"y":0.4938},{"x":0.4175,"y":0.4828},{"x":0.4281,"y":0.468},{"x":0.4312,"y":0.463},{"x":0.4378,"y":0.4502},{"x":0.4312,"y":0.4143},{"x":0.4412,"y":0.387},{"x":0.38,"y":0.4387},{"x":0.3833,"y":0.473},{"x":0.061,"y":0.47},{"x":0.0628,"y":0.456},{"x":0.0567,"y":0.3898},{"x":0.1487,"y":0.407},{"x":0.1834,"y":0.381},{"x":0.309,"y":0.3635},{"x":0.1112,"y":0.2864},{"x":0.2224,"y":0},{"x":0.4622,"y":0.3912},
{"x":0.4717,"y":0.789},{"x":0.48,"y":0.767},{"x":0.484,"y":0.696},{"x":0.5765,"y":0.707},{"x":0.534,"y":0.473},{"x":0.605,"y":0.473},{"x":0.612,"y":0.4717},{"x":0.6286,"y":0.4588},{"x":0.6167,"y":0.4358},{"x":0.7136,"y":0.4559},{"x":0.6654,"y":0.3754},{"x":0.806,"y":0.3654},{"x":0.836,"y":0.3438},{"x":0.856,"y":0.3036},{"x":0.8903,"y":0.2079},{"x":0.9845,"y":0.2289},
{"x":0.3833,"y":0.7383},{"x":0.4092,"y":0.7396},{"x":0.4037,"y":0.706},{"x":0.2547,"y":0.816},{"x":0.2553,"y":0.8007},{"x":0.2867,"y":0.7984},{"x":0.3022,"y":0.772},{"x":0.2812,"y":0.765},
{"x":0.3935,"y":0.3125}
],
"highlight": [{"county": "Chattahoochee County", "x": 0.3935, "y": 0.3125}]
},
"layer": [
{
"data": {"name": "counties"},
"mark": {"type": "point", "filled": true, "size": 62, "fill": "#000000", "fillOpacity": 0.34, "stroke": "#1d4e6e", "strokeOpacity": 0.4, "strokeWidth": 0.8},
"encoding": {
"x": {"field": "x", "type": "quantitative", "scale": {"domain": [-0.049, 1.034], "nice": false, "zero": false},
"axis": {"values": [0, 0.125, 0.25, 0.375, 0.5, 0.625, 0.75, 0.875, 1], "labelExpr": "round(datum.value * 8) % 2 === 0 ? format(datum.value, '.0%') : ''", "grid": true, "gridColor": "#ebebeb", "gridWidth": {"condition": {"test": "round(datum.value * 8) % 2 === 0", "value": 2.2}, "value": 1.1}, "domain": false, "ticks": false, "tickSize": 0, "labelFontSize": 29, "labelColor": "#4d4d4d", "labelPadding": 42, "labelBaseline": "alphabetic", "labelFlush": false, "labelOverlap": false, "title": "Percent of Units in Multi-Unit Structures", "titleFontSize": 36, "titleFontWeight": "normal", "titleColor": "#000000", "titleBaseline": "alphabetic", "titleY": 84}},
"y": {"field": "y", "type": "quantitative", "scale": {"domain": [-0.0458, 0.9608], "nice": false, "zero": false},
"axis": {"values": [0, 0.125, 0.25, 0.375, 0.5, 0.625, 0.75, 0.875], "labelExpr": "round(datum.value * 8) % 2 === 0 ? format(datum.value, '.0%') : ''", "grid": true, "gridColor": "#ebebeb", "gridWidth": {"condition": {"test": "round(datum.value * 8) % 2 === 0", "value": 2.2}, "value": 1.1}, "domain": false, "ticks": false, "tickSize": 0, "labelFontSize": 29, "labelColor": "#4d4d4d", "labelPadding": 18, "labelBaseline": "middle", "labelFlush": false, "labelOverlap": false, "title": "Homeownership Rate", "titleFontSize": 36, "titleFontWeight": "normal", "titleColor": "#000000", "titleAngle": -90, "titleBaseline": "alphabetic", "titleX": -92, "titleY": 347}}
}
},
{
"data": {"name": "highlight"},
"mark": {"type": "rule", "color": "#f7695e", "strokeDash": [7, 6], "strokeWidth": 1.6},
"encoding": {
"x": {"field": "x", "type": "quantitative"},
"x2": {"datum": 0},
"y": {"field": "y", "type": "quantitative"}
}
},
{
"data": {"name": "highlight"},
"mark": {"type": "rule", "color": "#f7695e", "strokeDash": [7, 6], "strokeWidth": 1.6},
"encoding": {
"x": {"field": "x", "type": "quantitative"},
"y": {"field": "y", "type": "quantitative"},
"y2": {"datum": 0}
}
},
{
"data": {"name": "highlight"},
"mark": {"type": "point", "filled": false, "size": 240, "color": "#ee4b3a", "strokeWidth": 1, "opacity": 1},
"encoding": {
"x": {"field": "x", "type": "quantitative"},
"y": {"field": "y", "type": "quantitative"}
}
},
{
"data": {"name": "highlight"},
"mark": {"type": "text", "align": "left", "baseline": "alphabetic", "dx": 18, "dy": 32, "fontSize": 28, "fontStyle": "italic", "color": "#ee4a2e"},
"encoding": {
"x": {"field": "x", "type": "quantitative"},
"y": {"field": "y", "type": "quantitative"},
"text": {"field": "county"}
}
}
]
}
